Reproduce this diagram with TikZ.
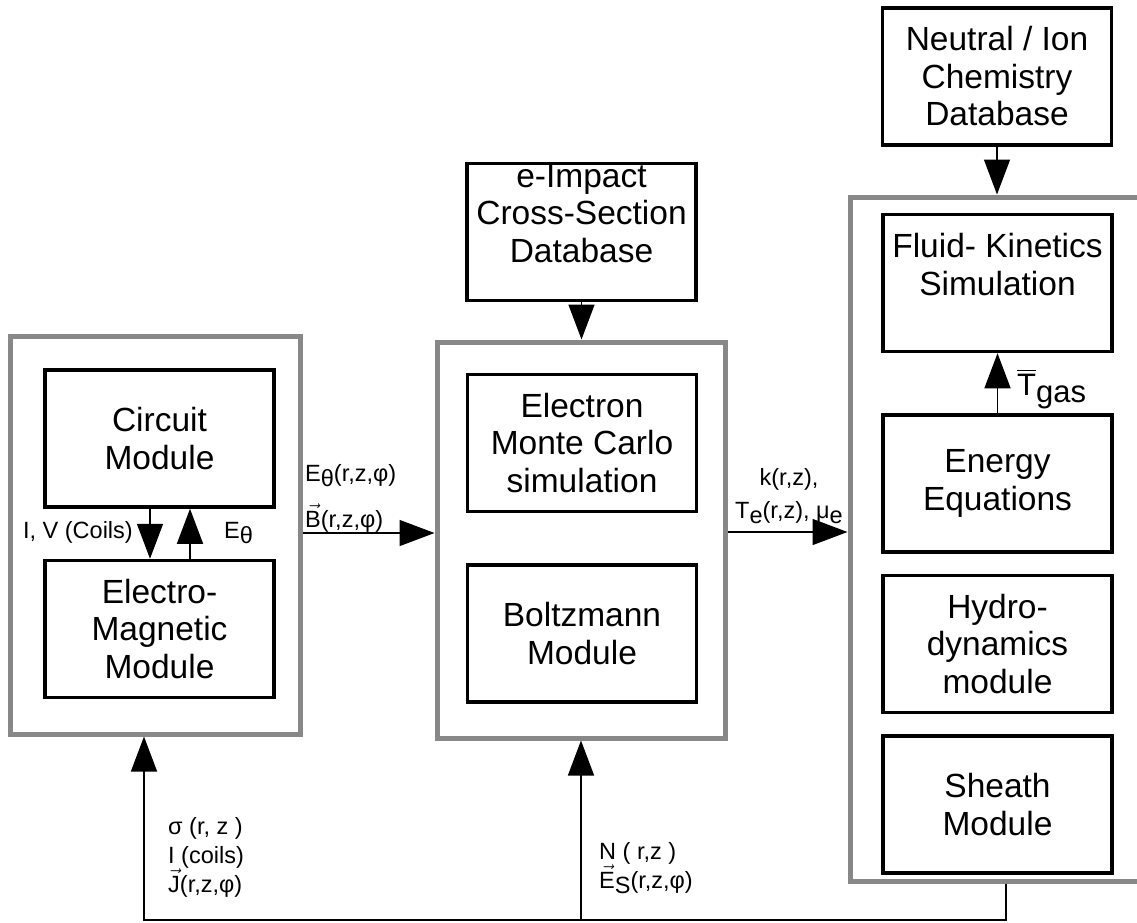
\documentclass[tikz,border=0pt]{standalone}
\usepackage{amsmath}
\usepackage{fontspec}
\setmainfont{Liberation Sans}
\usepackage{tikz}
\usetikzlibrary{arrows.meta, positioning}

\definecolor{framegray}{RGB}{136,136,136}
\newcommand\boxfont{\fontsize{33.5}{37.5}\selectfont}
\newcommand\labelfont{\fontsize{23.5}{29}\selectfont}
\newcommand\lowsub[1]{\raisebox{-0.25em}{#1}}

\tikzset{
    modbox/.style={rectangle, draw=black, line width=3.5pt, minimum width=229pt, minimum height=137pt, align=center, font=\boxfont, inner sep=0pt},
    stageframe/.style={rectangle, draw=framegray, line width=5pt, inner sep=0pt},
    flowarrow/.style={-{Triangle[length=35pt, width=26pt]}, line width=1.5pt},
    flowlabel/.style={font=\labelfont, inner sep=0pt, align=left}
}

\begin{document}
\begin{tikzpicture}[x=1pt, y=1pt]
\useasboundingbox (0,0) rectangle (1137,-922);

% stage frames
\node[stageframe, minimum width=290pt, minimum height=398pt] (emstage) at (155,-535) {};
\node[stageframe, minimum width=288pt, minimum height=396pt] (mcstage) at (581,-540) {};
\begin{scope}
    \clip (0,0) rectangle (1137,-922);
    \node[stageframe, minimum width=312pt, minimum height=684pt] (fkstage) at (1006,-539) {};
\end{scope}

% modules
\node[modbox] (circuit) at (159.5,-438.5) {Circuit\\Module};
\node[modbox, below=50pt of circuit] (emag) {Electro-\\Magnetic\\Module};

\node[modbox] (eimpact) at (581.5,-232) {e-Impact\\Cross-Section\\Database\\\mbox{}};
\node[modbox] (electron) at (582,-443) {Electron\\Monte Carlo\\simulation};
\node[modbox, below=50pt of electron] (boltz) {Boltzmann\\Module};

\node[modbox] (neutral) at (997,-76.5) {Neutral / Ion\\Chemistry\\Database};
\node[modbox] (fluid) at (997.5,-283) {Fluid- Kinetics\\Simulation\\\mbox{}};
\node[modbox, below=60pt of fluid] (energy) {Energy\\Equations};
\node[modbox, below=20pt of energy] (hydro) {Hydro-\\dynamics\\module};
\node[modbox, below=20pt of hydro] (sheath) {Sheath\\Module};

% connectors
\draw[flowarrow] ([xshift=-9.5pt]circuit.south) -- ([xshift=-9.5pt]emag.north);
\draw[flowarrow] ([xshift=30.5pt]emag.north) -- ([xshift=30.5pt]circuit.south);
\draw[flowarrow] ([yshift=2pt]emstage.east) -- ([yshift=2pt]emstage.east -| mcstage.west);
\draw[flowarrow] ([yshift=8pt]mcstage.east) -- ([yshift=8pt]mcstage.east -| fkstage.west);
\draw[flowarrow] (eimpact.south) -- (eimpact.south |- mcstage.north);
\draw[flowarrow] (neutral.south) -- (neutral.south |- fkstage.north);
\draw[flowarrow] (energy.north) -- (fluid.south);

\coordinate (loopbase) at (0,-920);
\draw[flowarrow] (fkstage.south) |- ([xshift=-11pt]emstage.south |- loopbase) -- ([xshift=-11pt]emstage.south);
\draw[flowarrow] (mcstage.south |- loopbase) -- (mcstage.south);

% labels
\node[flowlabel, anchor=base east] (ivlab) at (133,-538) {I, V (Coils)};
\node[flowlabel, anchor=base west] (etlab) at (224,-538) {E\lowsub{θ}};
\node[flowlabel, anchor=base west] (eflab) at (305,-481) {E\lowsub{θ}(r,z,φ)};
\node[flowlabel, anchor=base west] (bflab) at (305,-527) {$\vec{\text{B}}$(r,z,φ)};
\node[flowlabel, anchor=base] (klab) at (789,-485) {k(r,z),};
\node[flowlabel, anchor=base] (telab) at (789,-518) {T\lowsub{e}(r,z), μ\lowsub{e}};
\node[flowlabel, anchor=base west, font=\fontsize{31}{33}\selectfont] (tgaslab) at (1017,-395) {$\overline{\text{T}}$\lowsub{gas}};
\node[flowlabel, anchor=base west] (sigmalab) at (168,-892) {σ (r, z )\\I (coils)\\$\vec{\text{J}}$(r,z,φ)};
\node[flowlabel, anchor=base west] (nlab) at (599,-888) {N ( r,z )\\$\vec{\text{E}}$\lowsub{S}(r,z,φ)};

\end{tikzpicture}
\end{document}
